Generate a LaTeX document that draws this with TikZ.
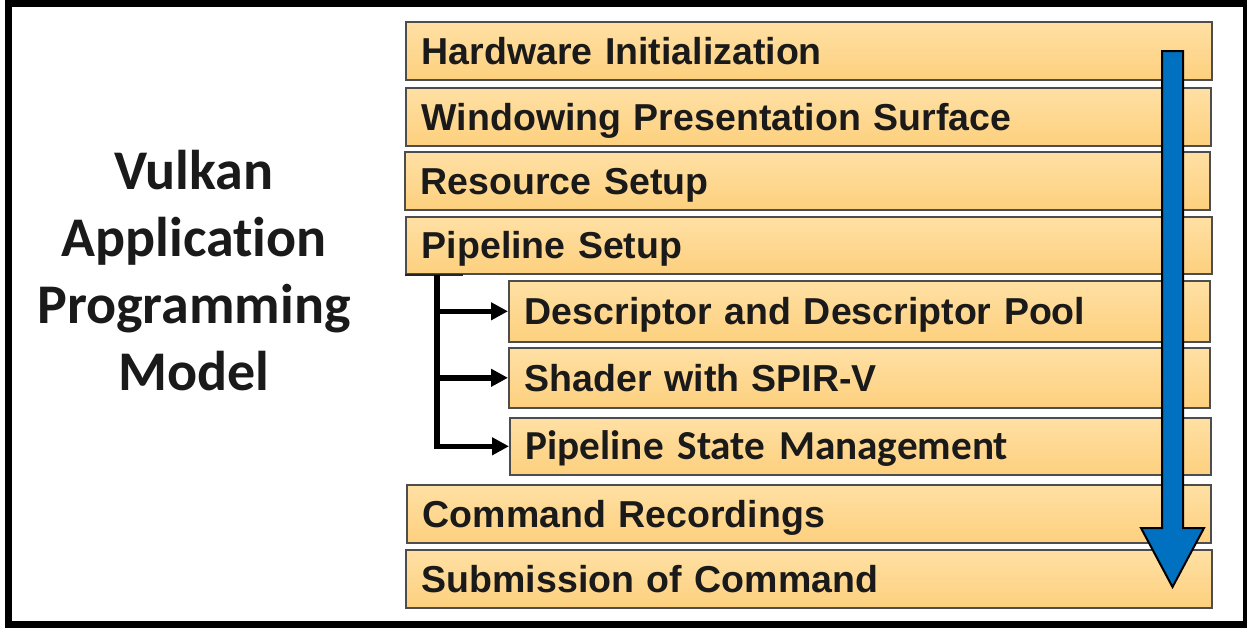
\documentclass[tikz,border=0pt]{standalone}
\usepackage{fontspec}
\setmainfont{Liberation Sans}
\newfontfamily\carlito[Ligatures=NoCommon]{Carlito}
\usetikzlibrary{arrows.meta}
\definecolor{boxtop}{HTML}{FFE0A4}
\definecolor{boxbot}{HTML}{FDD07E}
\definecolor{boxline}{HTML}{4D4D4D}
\definecolor{txt}{HTML}{1A1A1A}
\definecolor{vkblue}{HTML}{0070C0}
\tikzset{
  stepbox/.style={draw=boxline, line width=0.8pt, top color=boxtop, bottom color=boxbot,
    anchor=north west, inner xsep=8pt, inner ysep=0pt, align=left,
    text height=13.4pt, text depth=0pt, text=txt,
    font=\bfseries\fontsize{18.75}{22}\selectfont},
  conn/.style={line width=2.8pt, black, -{Triangle[length=8.5pt,width=8.5pt]}},
}
\begin{document}
\begin{tikzpicture}[x=0.5pt,y=-0.5pt]
\useasboundingbox (0,0) rectangle (1247,627);
\fill[white] (0,0) rectangle (1247,627);
\draw[line width=3.5pt] (8.5,3.5) rectangle (1246.5,624.5);

\node[font=\carlito\bfseries\fontsize{28}{33.5}\selectfont, align=center, text=txt] (title) at (194,271)
  {Vulkan\\Application\\Programming\\Model};

\node[stepbox, minimum width=403pt, minimum height=29pt, text width=387pt] (hw) at (405,21) {Hardware Initialization};
\node[stepbox, minimum width=402.5pt, minimum height=29pt, text width=386.5pt] (win) at (405,87) {Windowing Presentation Surface};
\node[stepbox, minimum width=402.5pt, minimum height=29pt, text width=386.5pt] (res) at (404,151) {Resource Setup};
\node[stepbox, minimum width=403pt, minimum height=28.5pt, text width=387pt] (ps) at (405,216) {Pipeline Setup};
\node[stepbox, minimum width=350.5pt, minimum height=30.5pt, text width=334.5pt] (desc) at (508,280) {Descriptor and Descriptor Pool};
\node[stepbox, minimum width=350.5pt, minimum height=30pt, text width=334.5pt] (shader) at (508,347) {Shader with SPIR-V};
\node[stepbox, minimum width=350.5pt, minimum height=28.5pt, text width=334.5pt,
  font=\carlito\bfseries\fontsize{20.6}{24}\selectfont, text height=13.2pt] (psm) at (509,417) {Pipeline State Management};
\node[stepbox, minimum width=402pt, minimum height=29pt, text width=386pt] (cmd) at (406,484) {Command Recordings};
\node[stepbox, minimum width=403pt, minimum height=29pt, text width=387pt] (sub) at (405,549) {Submission of Command};

\draw[line width=1pt, black!85] (ps.south west) -- ([xshift=29pt]ps.south west);
\coordinate (trunk) at ([xshift=16pt]ps.south west);
\draw[conn] (trunk) |- (desc.west);
\draw[conn] (trunk) |- (shader.west);
\draw[conn] (trunk) |- (psm.west);

\draw[fill=vkblue, draw=black, line width=1pt, line join=miter]
  (1162,51) -- (1183,51) -- (1183,528) -- (1204,528) -- (1172.5,587) -- (1141,528) -- (1162,528) -- cycle;
\end{tikzpicture}
\end{document}
